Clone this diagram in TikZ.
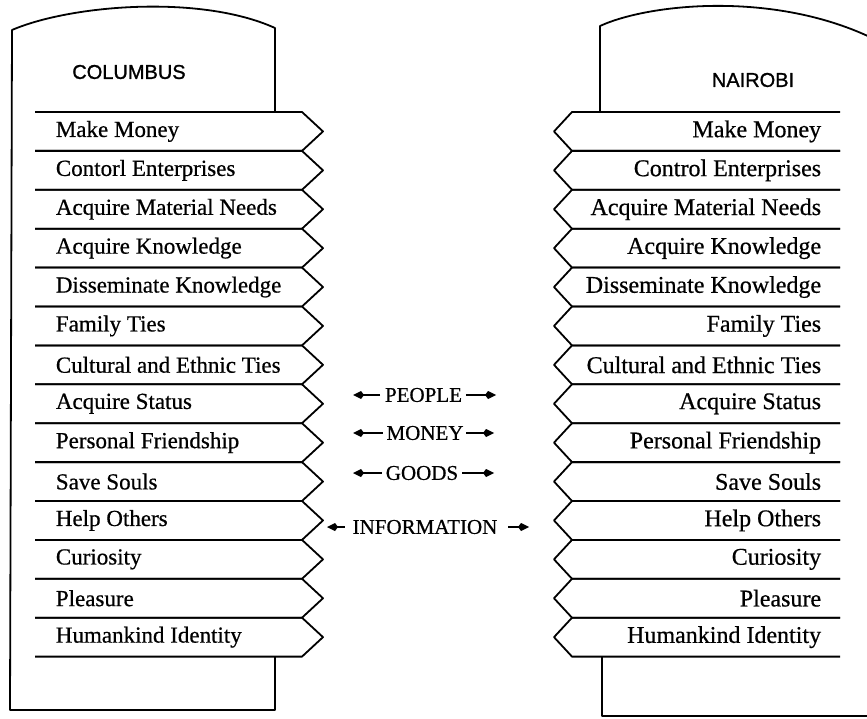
\documentclass[tikz,border=0pt]{standalone}
\usepackage{fontspec}
\setmainfont{Liberation Serif}
\newfontfamily\titlefont[FakeBold=1.2]{Liberation Sans}
\newfontfamily\lblfont[FakeBold=0.6]{Liberation Serif}
\usetikzlibrary{arrows.meta}
\begin{document}
\begin{tikzpicture}[x=1pt,y=-1pt,line width=1.8pt,line join=round,
  lbl/.style={inner sep=0pt,font=\lblfont\fontsize{23}{25}\selectfont},
  rlbl/.style={inner sep=0pt,font=\lblfont\fontsize{24}{26}\selectfont},
  ttl/.style={inner sep=0pt,font=\titlefont\fontsize{20}{22}\selectfont},
  flow/.style={inner sep=0pt,font=\lblfont\fontsize{21}{23}\selectfont},
  arr/.style={line width=1.6pt,-{Kite[length=11pt,width=8pt,inset=3pt]}}]
\clip (0,0) rectangle (867,719);
\fill[white] (0,0) rectangle (867,719);
% left building
\draw (275,113) -- (275,28) .. controls (200,-6) and (70,5) .. (12,30) -- (10,710) -- (275,710) -- (275,657);
% right building
\draw (600,113) -- (600,26) .. controls (650,3) and (780,-10) .. (880,42);
\draw (602,657) -- (602,716) -- (880,716);
\node[ttl] (columbus) at (129,72) {COLUMBUS};
\node[ttl] (nairobi) at (753,80) {NAIROBI};
\def\rowh{38.9}
\foreach \lab [count=\i from 0] in {Make Money,Contorl Enterprises,Acquire Material Needs,Acquire Knowledge,Disseminate Knowledge,Family Ties,Cultural and Ethnic Ties,Acquire Status,Personal Friendship,Save Souls,Help Others,Curiosity,Pleasure,Humankind Identity}{
  \pgfmathsetmacro\ta{112+\rowh*\i}
  \pgfmathsetmacro\tb{\ta+\rowh}
  \pgfmathsetmacro\tm{\ta+\rowh/2}
  \draw (35,\ta) -- (302,\ta) -- (323,\tm) -- (302,\tb) -- (35,\tb);
  \node[lbl,anchor=west] (L\i) at (55,\tm) {\lab};
}
\foreach \lab [count=\i from 0] in {Make Money,Control Enterprises,Acquire Material Needs,Acquire Knowledge,Disseminate Knowledge,Family Ties,Cultural and Ethnic Ties,Acquire Status,Personal Friendship,Save Souls,Help Others,Curiosity,Pleasure,Humankind Identity}{
  \pgfmathsetmacro\ta{112+\rowh*\i}
  \pgfmathsetmacro\tb{\ta+\rowh}
  \pgfmathsetmacro\tm{\ta+\rowh/2}
  \draw (840,\ta) -- (572,\ta) -- (554,\tm) -- (572,\tb) -- (840,\tb);
  \node[rlbl,anchor=east] (R\i) at (822,\tm) {\lab};
}
% flows
\node[flow] (people) at (423.5,395) {PEOPLE};
\node[flow] (money) at (425,433) {MONEY};
\node[flow] (goods) at (422,473) {GOODS};
\node[flow] (info) at (425,527) {INFORMATION};
\coordinate (pl) at (353,395); \coordinate (pr) at (496,395);
\coordinate (ml) at (353,433); \coordinate (mr) at (494,433);
\coordinate (gl) at (353,473); \coordinate (gr) at (494,473);
\coordinate (il) at (327,527); \coordinate (ir) at (529,527);
\draw[arr] ([xshift=-4pt]people.west) -- (pl);
\draw[arr] ([xshift=3pt]people.east) -- (pr);
\draw[arr] ([xshift=-3pt]money.west) -- (ml);
\draw[arr] ([xshift=2pt]money.east) -- (mr);
\draw[arr] ([xshift=-3pt]goods.west) -- (gl);
\draw[arr] ([xshift=3pt]goods.east) -- (gr);
\draw[arr] ([xshift=-7pt]info.west) -- (il);
\draw[arr] ([xshift=10pt]info.east) -- (ir);
\end{tikzpicture}
\end{document}
